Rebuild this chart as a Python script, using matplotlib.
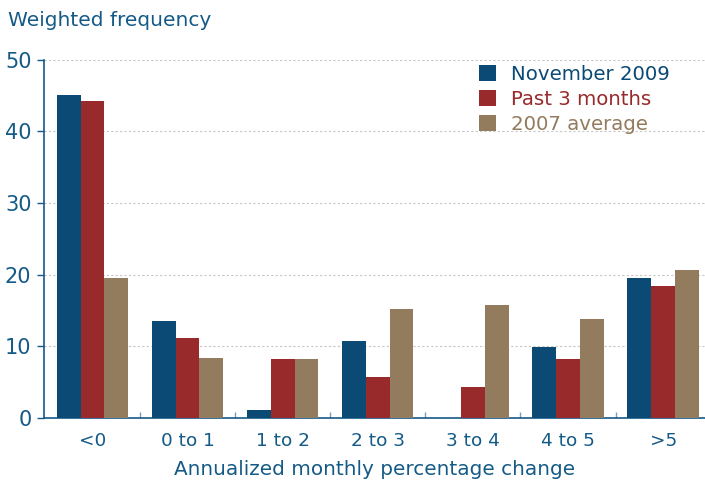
import matplotlib
matplotlib.use("Agg")
import matplotlib.pyplot as plt
import numpy as np

plt.rcParams["font.family"] = ["DejaVu Sans"]

categories = ["<0", "0 to 1", "1 to 2", "2 to 3", "3 to 4", "4 to 5", ">5"]
nov_2009 = [45.0, 13.6, 1.1, 10.7, 0.0, 9.9, 19.6]
past_3_months = [44.2, 11.1, 8.2, 5.7, 4.3, 8.2, 18.45]
avg_2007 = [19.6, 8.4, 8.2, 15.2, 15.7, 13.8, 20.6]
series_names = ["November 2009", "Past 3 months", "2007 average"]
yticks = [0, 10, 20, 30, 40, 50]

colors = ["#0b4a74", "#982a2b", "#937b5d"]
text_color = "#145a87"

fig = plt.figure(figsize=(7.05, 4.8), dpi=100)
ax = fig.add_axes([0.0624, 0.129, 0.9376, 0.747])

x = np.arange(len(categories))
w = 0.25
for i, (vals, name, c) in enumerate(zip([nov_2009, past_3_months, avg_2007], series_names, colors)):
    ax.bar(x + (i - 1) * w, vals, width=w, color=c, label=name, zorder=3)

ax.set_xlim(-0.51, 6.44)
ax.set_ylim(0, 50)
ax.set_yticks(yticks)
ax.set_yticklabels([str(t) for t in yticks], fontsize=15, color=text_color)
ax.yaxis.grid(True, linestyle=(0, (2, 2)), color="#c8c8c8", linewidth=0.8, zorder=0)
ax.set_axisbelow(True)

ax.set_xticks(x)
ax.set_xticklabels(categories, fontsize=13.3, color=text_color)
ax.tick_params(axis="x", length=0, pad=10)
ax.tick_params(axis="y", length=5, color=text_color, width=1, pad=4, direction="out")
ax.set_xticks(np.arange(0.5, len(categories) - 1, 1.0), minor=True)
ax.tick_params(axis="x", which="minor", length=4, direction="in", color="#7a9cb8", width=1)

for s in ["top", "right"]:
    ax.spines[s].set_visible(False)
for s in ["left", "bottom"]:
    ax.spines[s].set_color(text_color)
    ax.spines[s].set_linewidth(1.2)

ax.set_xlabel("Annualized monthly percentage change", fontsize=14.4, color=text_color, labelpad=7)
fig.text(0.011, 0.978, "Weighted frequency", fontsize=14.5, color=text_color, va="top", ha="left")

leg = ax.legend(loc="upper right", bbox_to_anchor=(0.962, 1.012), frameon=False, fontsize=14.2,
                handlelength=0.9, handleheight=0.9, handletextpad=0.75, labelspacing=0.3,
                borderaxespad=0.1)
for t, c in zip(leg.get_texts(), colors):
    t.set_color(c)

fig.savefig("out.png", dpi=100)
